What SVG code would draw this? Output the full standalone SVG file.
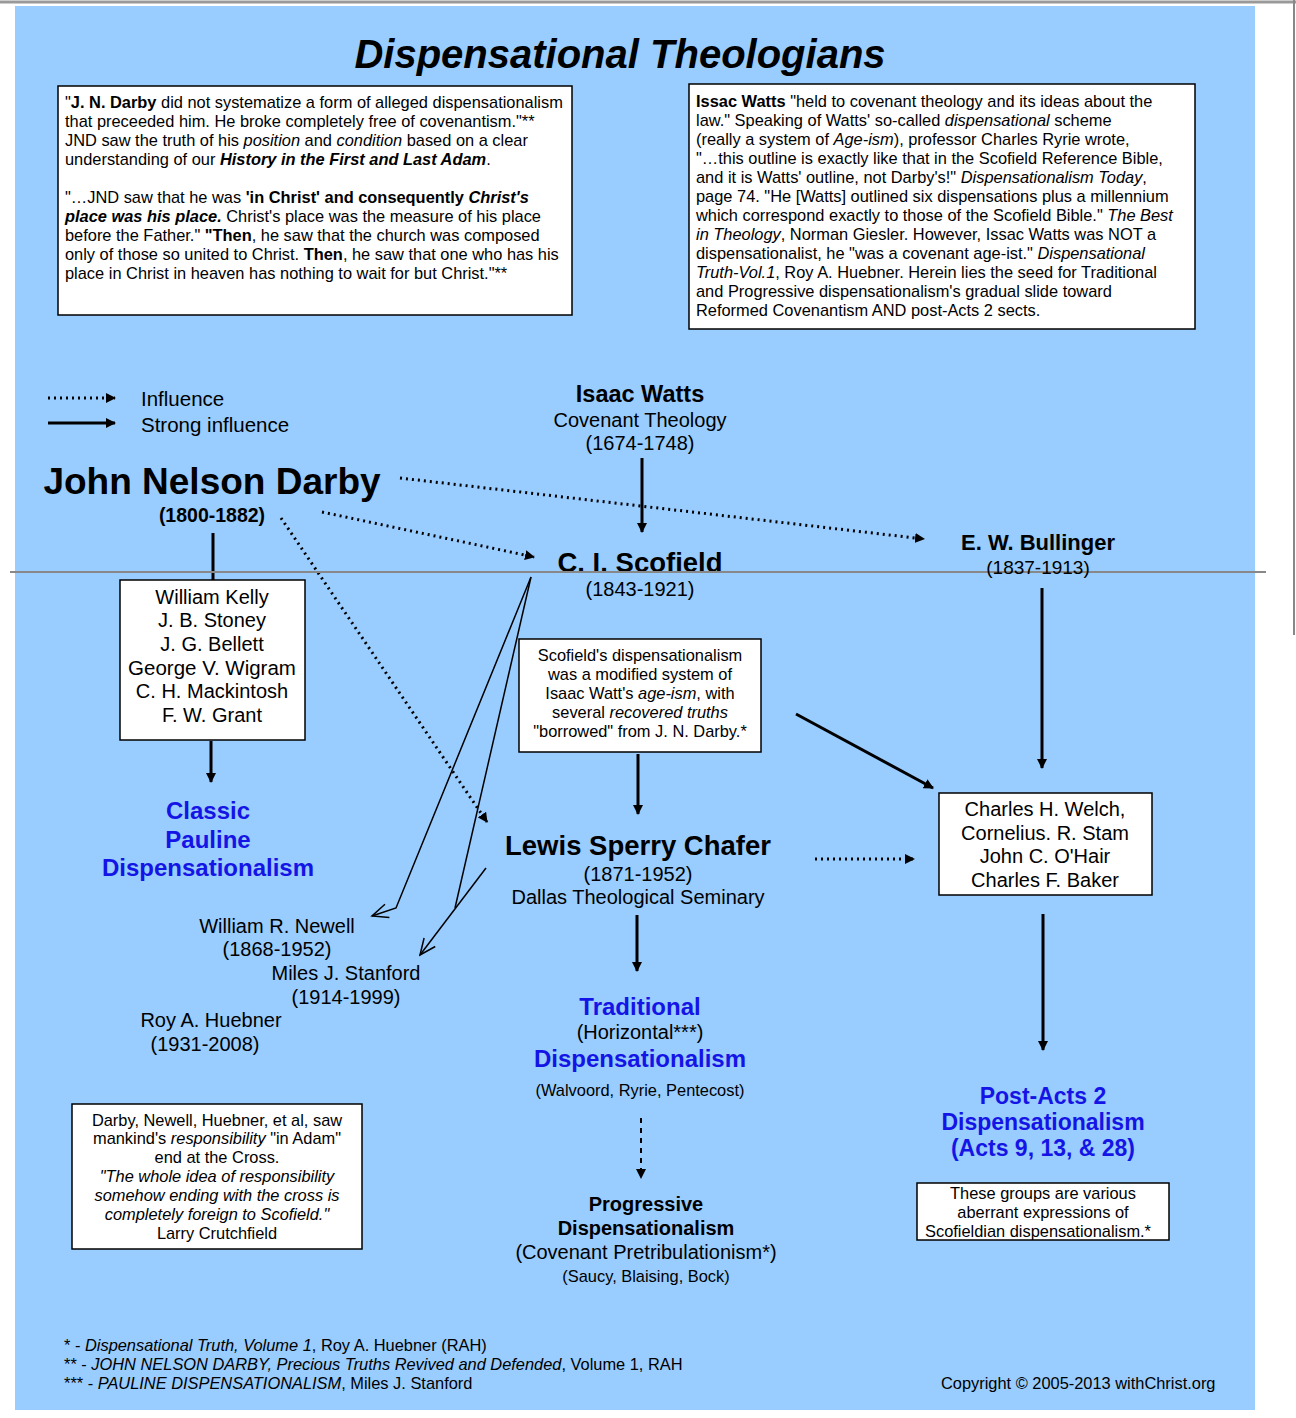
<svg xmlns="http://www.w3.org/2000/svg" width="1296" height="1418" viewBox="0 0 1296 1418">
<style>
text{font-family:"Liberation Sans",Arial,sans-serif;fill:#000}
.box{fill:#fff;stroke:#000;stroke-width:1.5}
.s{font-size:16.4px}
.m{font-size:20px}
.bl{fill:#1414e6;font-weight:bold;font-size:24px}
.c{text-anchor:middle}
.ln{stroke:#000;stroke-width:3;fill:none}
.dt{stroke:#000;stroke-width:3;fill:none;stroke-dasharray:2 4}
.th{stroke:#000;stroke-width:1.5;fill:none}
</style>
<defs>
<marker id="ah" markerWidth="10" markerHeight="10" refX="9" refY="5" orient="auto" markerUnits="userSpaceOnUse" viewBox="0 0 10 10"><path d="M0,0L10,5L0,10z" fill="#000"/></marker>
<marker id="oa" markerWidth="20" markerHeight="20" refX="18" refY="10" orient="auto" markerUnits="userSpaceOnUse" viewBox="0 0 20 20"><path d="M2,3L18,10L2,17" fill="none" stroke="#000" stroke-width="1.5"/></marker>
</defs>
<rect width="1296" height="1418" fill="#fff"/>
<rect x="15" y="6" width="1240" height="1404" fill="#99ccff"/>
<line x1="0" y1="2" x2="1296" y2="2" stroke="#999" stroke-width="3"/>
<line x1="1294" y1="0" x2="1294" y2="635" stroke="#888" stroke-width="2"/>
<text x="620" y="68" class="c" style="font-size:40px;font-weight:bold;font-style:italic">Dispensational Theologians</text>

<g id="darby-note">
<rect x="58" y="86" width="514" height="229" class="box"/>
<text class="s" x="65" y="108">"<tspan font-weight="bold">J. N. Darby</tspan> did not systematize a form of alleged dispensationalism</text>
<text class="s" x="65" y="127">that preceeded him.  He broke completely free of covenantism."**</text>
<text class="s" x="65" y="146">JND saw the truth of his <tspan font-style="italic">position</tspan> and <tspan font-style="italic">condition</tspan> based on a clear</text>
<text class="s" x="65" y="165">understanding of our <tspan font-weight="bold" font-style="italic">History in the First and Last Adam</tspan>.</text>
<text class="s" x="65" y="203">"…JND saw that he was <tspan font-weight="bold">'in Christ' and consequently <tspan font-style="italic">Christ's</tspan></tspan></text>
<text class="s" x="65" y="222"><tspan font-weight="bold" font-style="italic">place was his place.</tspan>  Christ's place was the measure of his place</text>
<text class="s" x="65" y="241">before the Father."  <tspan font-weight="bold">"Then</tspan>, he saw that the church was composed</text>
<text class="s" x="65" y="260">only of those so united to Christ.  <tspan font-weight="bold">Then</tspan>, he saw that one who has his</text>
<text class="s" x="65" y="279">place in Christ in heaven has nothing to wait for but Christ."**</text>
</g>

<g id="watts-note">
<rect x="689" y="84" width="506" height="245" class="box"/>
<text class="s" x="696" y="107"><tspan font-weight="bold">Issac Watts</tspan> "held to covenant theology and its ideas about the</text>
<text class="s" x="696" y="126">law."  Speaking of Watts' so-called <tspan font-style="italic">dispensational</tspan> scheme</text>
<text class="s" x="696" y="145">(really a system of <tspan font-style="italic">Age-ism</tspan>), professor Charles Ryrie wrote,</text>
<text class="s" x="696" y="164">"…this outline is exactly like that in the Scofield Reference Bible,</text>
<text class="s" x="696" y="183">and it is Watts' outline, not Darby's!"  <tspan font-style="italic">Dispensationalism Today</tspan>,</text>
<text class="s" x="696" y="202">page 74.  "He [Watts] outlined six dispensations plus a millennium</text>
<text class="s" x="696" y="221">which correspond exactly to those of the Scofield Bible." <tspan font-style="italic">The Best</tspan></text>
<text class="s" x="696" y="240"><tspan font-style="italic">in Theology</tspan>, Norman Giesler.  However, Issac Watts was NOT a</text>
<text class="s" x="696" y="259">dispensationalist, he "was a covenant age-ist."  <tspan font-style="italic">Dispensational</tspan></text>
<text class="s" x="696" y="278"><tspan font-style="italic">Truth-Vol.1</tspan>, Roy A. Huebner.  Herein lies the seed for Traditional</text>
<text class="s" x="696" y="297">and Progressive dispensationalism's gradual slide toward</text>
<text class="s" x="696" y="316">Reformed Covenantism AND post-Acts 2 sects.</text>
</g>

<g id="legend">
<line x1="48" y1="398" x2="115" y2="398" class="dt" marker-end="url(#ah)"/>
<line x1="48" y1="423" x2="115" y2="423" class="ln" marker-end="url(#ah)"/>
<text x="141" y="406" style="font-size:20.5px">Influence</text>
<text x="141" y="432" style="font-size:20.5px">Strong influence</text>
</g>

<g id="connectors">
<line x1="400" y1="478" x2="924" y2="539" class="dt" marker-end="url(#ah)"/>
<line x1="322" y1="512" x2="534" y2="557" class="dt" marker-end="url(#ah)"/>
<line x1="281" y1="518" x2="487" y2="822" class="dt" marker-end="url(#ah)"/>
<line x1="642" y1="458" x2="642" y2="532" class="ln" marker-end="url(#ah)"/>
<line x1="213" y1="533" x2="213" y2="580" class="ln"/>
<line x1="211" y1="741" x2="211" y2="782" class="ln" marker-end="url(#ah)"/>
<line x1="1042" y1="588" x2="1042" y2="768" class="ln" marker-end="url(#ah)"/>
<line x1="796" y1="714" x2="933" y2="788" class="ln" marker-end="url(#ah)"/>
<line x1="638" y1="754" x2="638" y2="814" class="ln" marker-end="url(#ah)"/>
<line x1="815" y1="859" x2="914" y2="859" class="dt" marker-end="url(#ah)"/>
<line x1="637" y1="915" x2="637" y2="971" class="ln" marker-end="url(#ah)"/>
<line x1="1043" y1="914" x2="1043" y2="1050" class="ln" marker-end="url(#ah)"/>
<line x1="641" y1="1118" x2="641" y2="1178" stroke="#000" stroke-width="2" stroke-dasharray="5 5" marker-end="url(#ah)"/>
<polyline points="531,577 396,908 372,916" class="th" marker-end="url(#oa)"/>
<line x1="531" y1="577" x2="455" y2="908" class="th"/>
<line x1="486" y1="868" x2="420" y2="955" class="th" marker-end="url(#oa)"/>
</g>

<g id="watts"><text x="640" y="402" class="c" style="font-size:23.5px;font-weight:bold">Isaac Watts</text>
<text x="640" y="427" class="c m">Covenant Theology</text><text x="640" y="450" class="c m">(1674-1748)</text></g>

<g id="darby"><text x="212" y="494" class="c" style="font-size:37px;font-weight:bold">John Nelson Darby</text>
<text x="212" y="522" class="c" style="font-size:19.5px;font-weight:bold">(1800-1882)</text></g>

<g id="scofield"><text x="640" y="572" class="c" style="font-size:27.5px;font-weight:bold">C. I. Scofield</text>
<text x="640" y="596" class="c m">(1843-1921)</text></g>

<line x1="10" y1="572" x2="1266" y2="572" stroke="#888" stroke-width="2"/>

<g id="bullinger"><text x="1038" y="550" class="c" style="font-size:22px;font-weight:bold">E. W. Bullinger</text>
<text x="1038" y="574" class="c" style="font-size:19px">(1837-1913)</text></g>

<g id="brethren"><rect x="120" y="580" width="185" height="160" class="box"/>
<text x="212" y="604" class="c m">William Kelly</text><text x="212" y="627" class="c m">J. B. Stoney</text>
<text x="212" y="651" class="c m">J. G. Bellett</text><text x="212" y="675" class="c" style="font-size:20.5px">George V. Wigram</text>
<text x="212" y="698" class="c m">C. H. Mackintosh</text><text x="212" y="722" class="c m">F. W. Grant</text></g>

<g id="scofield-note"><rect x="519" y="639" width="242" height="113" class="box"/>
<text x="640" y="661" class="c s">Scofield's dispensationalism</text>
<text x="640" y="680" class="c s">was a modified system of</text>
<text x="640" y="699" class="c s">Isaac Watt's <tspan font-style="italic">age-ism</tspan>, with</text>
<text x="640" y="718" class="c s">several <tspan font-style="italic">recovered truths</tspan></text>
<text x="640" y="737" class="c s">"borrowed" from J. N. Darby.*</text></g>

<g id="classic"><text x="208" y="819" class="c bl">Classic</text><text x="208" y="848" class="c bl">Pauline</text><text x="208" y="876" class="c bl">Dispensationalism</text></g>

<g id="chafer"><text x="638" y="855" class="c" style="font-size:27.5px;font-weight:bold">Lewis Sperry Chafer</text>
<text x="638" y="881" class="c m">(1871-1952)</text><text x="638" y="904" class="c m">Dallas Theological Seminary</text></g>

<g id="welch"><rect x="939" y="793" width="213" height="102" class="box"/>
<text x="1045" y="816" class="c m">Charles H. Welch,</text><text x="1045" y="840" class="c m">Cornelius. R. Stam</text>
<text x="1045" y="863" class="c m">John C. O'Hair</text><text x="1045" y="887" class="c m">Charles F. Baker</text></g>

<g id="newell"><text x="277" y="933" class="c m">William R. Newell</text><text x="277" y="956" class="c m">(1868-1952)</text></g>
<g id="stanford"><text x="346" y="980" class="c m">Miles J. Stanford</text><text x="346" y="1004" class="c m">(1914-1999)</text></g>
<g id="huebner"><text x="211" y="1027" class="c m">Roy A. Huebner</text><text x="205" y="1051" class="c m">(1931-2008)</text></g>

<g id="traditional"><text x="640" y="1015" class="c bl">Traditional</text>
<text x="640" y="1039" class="c m">(Horizontal***)</text>
<text x="640" y="1067" class="c bl">Dispensationalism</text>
<text x="640" y="1096" class="c" style="font-size:16.4px">(Walvoord, Ryrie, Pentecost)</text></g>

<g id="postacts"><text x="1043" y="1104" class="c bl" style="font-size:23px">Post-Acts 2</text>
<text x="1043" y="1130" class="c bl" style="font-size:23px">Dispensationalism</text>
<text x="1043" y="1156" class="c bl" style="font-size:23px">(Acts 9, 13, &amp; 28)</text></g>

<g id="resp-note"><rect x="72" y="1104" width="290" height="145" class="box"/>
<text x="217" y="1126" class="c s">Darby, Newell, Huebner, et al, saw</text>
<text x="217" y="1144" class="c s">mankind's <tspan font-style="italic">responsibility</tspan>  "in Adam"</text>
<text x="217" y="1163" class="c s">end at the Cross.</text>
<text x="217" y="1182" class="c s" font-style="italic">"The whole idea of responsibility</text>
<text x="217" y="1201" class="c s" font-style="italic">somehow ending with the cross is</text>
<text x="217" y="1220" class="c s" font-style="italic">completely foreign to Scofield."</text>
<text x="217" y="1239" class="c s">Larry Crutchfield</text></g>

<g id="progressive"><text x="646" y="1211" class="c" style="font-size:20px;font-weight:bold">Progressive</text>
<text x="646" y="1235" class="c" style="font-size:20px;font-weight:bold">Dispensationalism</text>
<text x="646" y="1259" class="c m">(Covenant Pretribulationism*)</text>
<text x="646" y="1282" class="c" style="font-size:16.4px">(Saucy, Blaising, Bock)</text></g>

<g id="groups-note"><rect x="917" y="1183" width="252" height="57" class="box"/>
<text x="1043" y="1199" class="c s">These groups are various</text>
<text x="1043" y="1218" class="c s">aberrant expressions of</text>
<text x="1038" y="1237" class="c s">Scofieldian dispensationalism.*</text></g>

<g id="footer">
<text class="s" x="64" y="1351">* - <tspan font-style="italic">Dispensational Truth, Volume 1</tspan>, Roy A. Huebner (RAH)</text>
<text class="s" x="64" y="1370">** - <tspan font-style="italic">JOHN NELSON DARBY, Precious Truths Revived and Defended</tspan>, Volume 1, RAH</text>
<text class="s" x="64" y="1389">*** - <tspan font-style="italic">PAULINE DISPENSATIONALISM</tspan>, Miles J. Stanford</text>
<text class="s" x="941" y="1389">Copyright © 2005-2013  withChrist.org</text>
</g>
</svg>
